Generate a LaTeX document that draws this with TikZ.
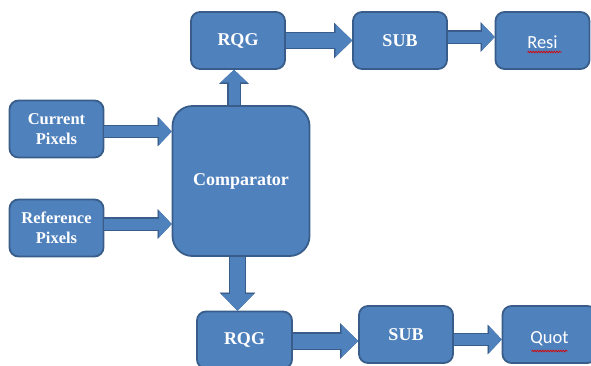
\documentclass[tikz,border=0pt]{standalone}
\usepackage{fontspec}
\setmainfont{Liberation Serif}
\newfontfamily\calibri{Carlito}
\usetikzlibrary{arrows.meta,decorations.pathmorphing}
\definecolor{boxfill}{RGB}{79,129,189}
\definecolor{boxline}{RGB}{56,93,138}
\begin{document}
\begin{tikzpicture}[x=1pt, y=-1pt,
    box/.style={draw=boxline, fill=boxfill, line width=1.8pt, rounded corners=9pt,
      text=white, align=center, inner sep=0pt, minimum width=94pt, minimum height=57pt,
      font=\fontsize{18}{20}\selectfont\bfseries},
    small/.style={font=\fontsize{16.5}{20}\selectfont\bfseries},
    plain/.style={font=\fontsize{18.5}{20}\selectfont\calibri},
    flow/.style={draw=boxfill, line width=11pt,
      -{Triangle[length=12.5pt, width=26.5pt, line width=0.01pt]},
      preaction={draw=boxline, line width=13.5pt,
        -{Triangle[length=14pt, width=29.5pt, line width=0.01pt]}}},
    bigflow/.style={draw=boxfill, line width=15pt,
      -{Triangle[length=16.5pt, width=32pt, line width=0.01pt]},
      preaction={draw=boxline, line width=17.5pt,
        -{Triangle[length=18pt, width=35.5pt, line width=0.01pt]}}},
    squiggle/.style={draw=red!85!black, line width=0.7pt, decorate,
      decoration={snake, amplitude=0.8pt, segment length=2.6pt}}]
  \useasboundingbox (0,0) rectangle (591,365);

  % Blocks
  \node[box, small] (cur) at (56.5,129) {Current\\Pixels};
  \node[box, small] (ref) at (56.5,228) {Reference\\Pixels};
  \node[box, minimum width=137pt, minimum height=150pt, rounded corners=20pt] (cmp) at (241,181) {Comparator};
  \node[box] (rqgA) at (238,40.5) {RQG};
  \node[box] (subA) at (400,40.5) {SUB};
  \node[box, plain] (resi) at (542.5,40.5) {\raisebox{-7.5pt}[0pt][0pt]{Resi}};
  \node[box, minimum width=95pt] (rqgB) at (244.5,340) {RQG};
  \node[box] (subB) at (406,334.5) {SUB};
  \node[box, plain] (quot) at (549.5,334.5) {\raisebox{-8.5pt}[0pt][0pt]{Quot}};

  % Arrows
  \draw[flow] ([yshift=-2.5]cur.east) -- ([yshift=-2.5]cur.east -| cmp.west);
  \draw[flow] ([yshift=4]ref.east) -- ([yshift=4]ref.east -| cmp.west);
  \draw[flow] ([xshift=-7]cmp.north) -- ([xshift=-7]cmp.north |- rqgA.south);
  \draw[bigflow] ([xshift=-3.5]cmp.south) -- ([xshift=-3.5]cmp.south |- rqgB.north);
  \draw[bigflow] (rqgA.east) -- (subA.west);
  \draw[flow] ([yshift=3.5]subA.east) -- ([yshift=3.5]subA.east -| resi.west);
  \draw[bigflow] ([yshift=-6.5]subB.west -| rqgB.east) -- ([yshift=-6.5]subB.west);
  \draw[flow] ([yshift=-5]subB.east) -- ([yshift=-5]subB.east -| quot.west);

  % Spelling marks
  \draw[squiggle] ([xshift=-15,yshift=-11.5]resi.center) -- ([xshift=19,yshift=-11.5]resi.center);
  \draw[squiggle] ([xshift=-18,yshift=-16.5]quot.center) -- ([xshift=18,yshift=-16.5]quot.center);
\end{tikzpicture}
\end{document}
